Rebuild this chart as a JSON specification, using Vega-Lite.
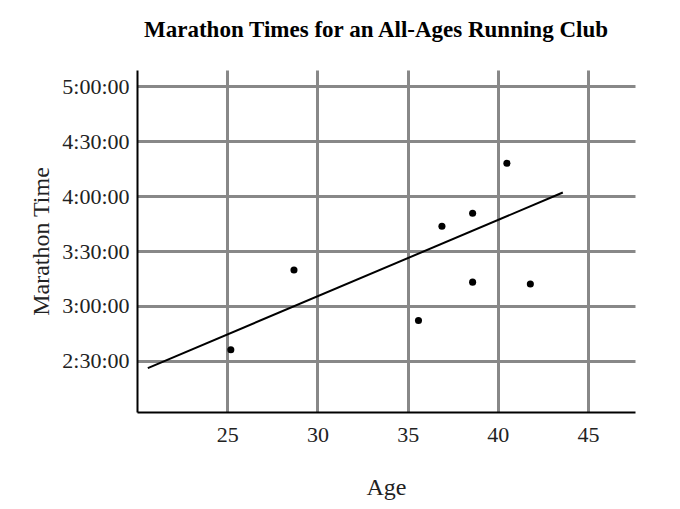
{
"$schema":"https://vega.github.io/schema/vega-lite/v6.json",
"autosize":{"type":"none"},
"width":498,"height":342,
"padding":{"left":137,"top":70,"right":45,"bottom":97},
"background":"white",
"title":{"text":"Marathon Times for an All-Ages Running Club","font":"Liberation Serif","fontSize":23,"fontWeight":"bold","color":"black","offset":28,"dx":-10},
"config":{"view":{"stroke":null},"axis":{"labelFont":"Liberation Serif","titleFont":"Liberation Serif","labelColor":"#222","titleColor":"#222","titleFontWeight":"normal","gridColor":"#888","gridWidth":3,"gridOpacity":1,"ticks":false,"domainColor":"black","domainWidth":2}},
"datasets":{"pts":[{"age":25.2,"t":156},{"age":28.7,"t":199.6},{"age":35.6,"t":172},{"age":36.9,"t":223.6},{"age":38.6,"t":230.7},{"age":38.6,"t":193},{"age":40.5,"t":258},{"age":41.8,"t":192}],
"fit":[{"age":20.6,"t":146},{"age":43.6,"t":242}]},
"layer":[
{"data":{"name":"fit"},"mark":{"type":"line","color":"black","strokeWidth":2},
"encoding":{"x":{"field":"age","type":"quantitative","scale":{"domain":[20,47.6],"nice":false,"zero":false},"axis":{"values":[25,30,35,40,45],"title":"Age","labelFontSize":22,"titleFontSize":24,"labelPadding":12,"titlePadding":30}},
"y":{"field":"t","type":"quantitative","scale":{"domain":[122,309],"nice":false,"zero":false},"axis":{"values":[150,180,210,240,270,300],"labelExpr":"floor(datum.value/60)+':'+(datum.value%60==0?'00':'30')+':00'","title":"Marathon Time","labelFontSize":22,"titleFontSize":24,"labelPadding":8,"titlePadding":8}}}},
{"data":{"name":"pts"},"mark":{"type":"circle","color":"black","size":50,"opacity":1},
"encoding":{"x":{"field":"age","type":"quantitative"},"y":{"field":"t","type":"quantitative"}}}
]}
